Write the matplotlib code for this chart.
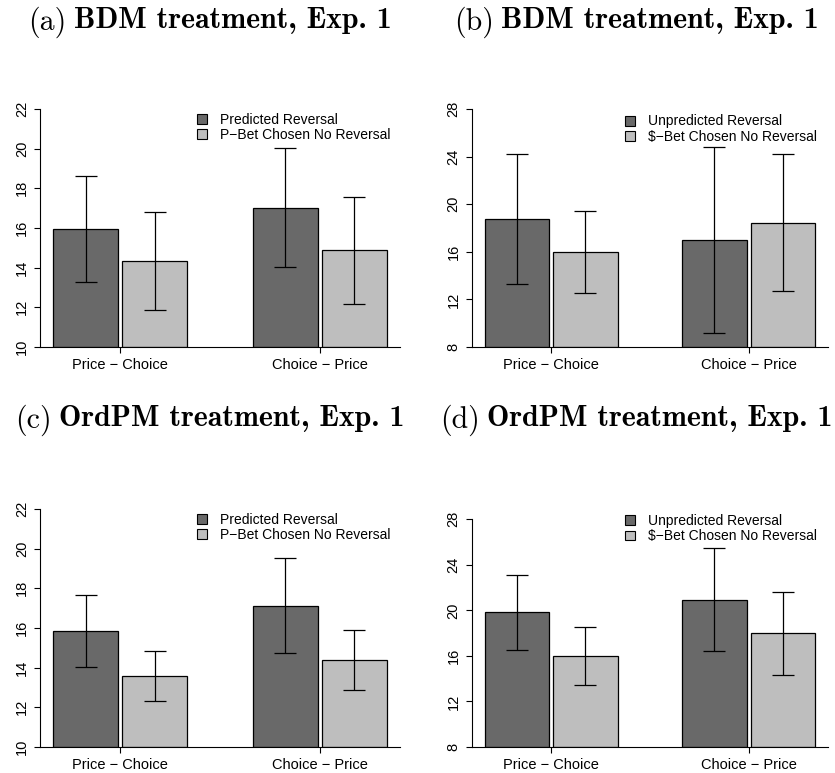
import matplotlib
matplotlib.use("Agg")
import matplotlib.pyplot as plt
from matplotlib.patches import Patch
from matplotlib.font_manager import FontProperties
from pathlib import Path
import numpy as np

plt.rcParams['font.family'] = ['Liberation Sans', 'DejaVu Sans']

# 데이터
groups = ["Price \u2212 Choice", "Choice \u2212 Price"]
labels_pred = ["Predicted Reversal", "P\u2212Bet Chosen No Reversal"]
labels_unpred = ["Unpredicted Reversal", "$\u2212Bet Chosen No Reversal"]

# (a) BDM, predicted
a_dark = [15.94, 17.03]
a_dark_lo = [13.27, 14.03]
a_dark_hi = [18.64, 20.02]
a_light = [14.36, 14.87]
a_light_lo = [11.88, 12.18]
a_light_hi = [16.83, 17.55]

# (b) BDM, unpredicted
b_dark = [18.74, 16.98]
b_dark_lo = [13.29, 9.17]
b_dark_hi = [24.22, 24.84]
b_light = [15.97, 18.46]
b_light_lo = [12.53, 12.73]
b_light_hi = [19.47, 24.22]

# (c) OrdPM, predicted
c_dark = [15.84, 17.13]
c_dark_lo = [14.03, 14.73]
c_dark_hi = [17.64, 19.53]
c_light = [13.57, 14.38]
c_light_lo = [12.33, 12.85]
c_light_hi = [14.85, 15.91]

# (d) OrdPM, unpredicted
d_dark = [19.84, 20.95]
d_dark_lo = [16.54, 16.39]
d_dark_hi = [23.12, 25.51]
d_light = [15.95, 17.97]
d_light_lo = [13.41, 14.32]
d_light_hi = [18.58, 21.60]

titles = ["BDM treatment, Exp. 1", "BDM treatment, Exp. 1",
          "OrdPM treatment, Exp. 1", "OrdPM treatment, Exp. 1"]
letters = ["(a)", "(b)", "(c)", "(d)"]

DARK = "#696969"
LIGHT = "#bebebe"
W, H = 835, 773

fig = plt.figure(figsize=(W / 100, H / 100), dpi=100)

ttf_dir = Path(matplotlib.get_data_path()) / "fonts" / "ttf"
fp_roman = FontProperties(fname=str(ttf_dir / "cmr10.ttf"), size=21.5)
fp_bold = FontProperties(fname=str(ttf_dir / "cmb10.ttf"), size=21.5)


def px_axes(x0, x1, y0, y1):
    # 픽셀 좌표로 axes 생성
    return fig.add_axes([x0 / W, 1 - y1 / H, (x1 - x0) / W, (y1 - y0) / H])


def draw_panel(ax, dark, dlo, dhi, light, llo, lhi, labels, yticks, ytop, leg_xy):
    bw = 1.0
    inner = 0.06
    start = 0.2
    g = np.arange(len(groups))
    x_dark = start + g * (2 * bw + inner + 1.0) + bw / 2
    x_light = x_dark + bw + inner

    dark = np.array(dark)
    light = np.array(light)
    ax.bar(x_dark, dark - yticks[0], width=bw, bottom=yticks[0], color=DARK,
           edgecolor="black", linewidth=0.9, zorder=2)
    ax.bar(x_light, light - yticks[0], width=bw, bottom=yticks[0], color=LIGHT,
           edgecolor="black", linewidth=0.9, zorder=2)
    ax.errorbar(x_dark, dark, yerr=[dark - np.array(dlo), np.array(dhi) - dark],
                fmt="none", ecolor="black", elinewidth=0.9, capsize=8, capthick=0.9, zorder=3)
    ax.errorbar(x_light, light, yerr=[light - np.array(llo), np.array(lhi) - light],
                fmt="none", ecolor="black", elinewidth=0.9, capsize=8, capthick=0.9, zorder=3)

    ax.set_xlim(0, 5.52)
    ax.set_ylim(yticks[0], ytop)
    ax.set_yticks(yticks)
    ax.set_yticklabels([str(t) for t in yticks], rotation=90, va="center", fontsize=10.5)
    centers = (x_dark + x_light) / 2
    ax.set_xticks(centers)
    ax.set_xticklabels(groups, fontsize=10.5)
    ax.tick_params(axis="both", length=4, width=0.8, pad=4)
    for s in ["top", "right"]:
        ax.spines[s].set_visible(False)
    ax.spines["left"].set_bounds(yticks[0], yticks[-1])
    ax.spines["left"].set_linewidth(0.8)
    ax.spines["bottom"].set_linewidth(0.8)

    handles = [Patch(facecolor=DARK, edgecolor="black", linewidth=0.8),
               Patch(facecolor=LIGHT, edgecolor="black", linewidth=0.8)]
    ax.legend(handles, labels, loc="upper left", frameon=False, fontsize=10,
              bbox_to_anchor=(leg_xy[0] / W, 1 - leg_xy[1] / H), bbox_transform=fig.transFigure,
              borderpad=0, borderaxespad=0, handlelength=0.72, handleheight=0.72,
              handletextpad=0.9, labelspacing=0.1)


ax_a = px_axes(40, 400, 109, 347)
draw_panel(ax_a, a_dark, a_dark_lo, a_dark_hi, a_light, a_light_lo, a_light_hi,
           labels_pred, list(range(10, 23, 2)), 22, (197, 112.5))

ax_b = px_axes(471.7, 828, 109, 347)
draw_panel(ax_b, b_dark, b_dark_lo, b_dark_hi, b_light, b_light_lo, b_light_hi,
           labels_unpred, list(range(8, 29, 4)), 28, (625, 114.5))

ax_c = px_axes(40, 400, 509, 747)
draw_panel(ax_c, c_dark, c_dark_lo, c_dark_hi, c_light, c_light_lo, c_light_hi,
           labels_pred, list(range(10, 23, 2)), 22, (197, 512.5))

ax_d = px_axes(471.7, 828, 509, 747)
draw_panel(ax_d, d_dark, d_dark_lo, d_dark_hi, d_light, d_light_lo, d_light_hi,
           labels_unpred, list(range(8, 29, 4)), 28.9, (625, 514))

# 제목: "(a)"는 보통체, 나머지는 굵게, 패널 위 가운데 정렬
renderer = fig.canvas.get_renderer()
title_pos = [(210, 18), (636, 18), (210, 416), (636, 416)]
gap = 7
for (cx, ty), let, t in zip(title_pos, letters, titles):
    t1 = fig.text(0, 1 - ty / H, let, fontproperties=fp_roman, ha="left", va="center_baseline")
    t2 = fig.text(0, 1 - ty / H, t, fontproperties=fp_bold, ha="left", va="center_baseline")
    w1 = t1.get_window_extent(renderer).width
    w2 = t2.get_window_extent(renderer).width
    x0 = min(cx - (w1 + gap + w2) / 2, W - 2 - (w1 + gap + w2))
    t1.set_x(x0 / W)
    t2.set_x((x0 + w1 + gap) / W)

plt.savefig("out.png", dpi=100)
plt.close()
